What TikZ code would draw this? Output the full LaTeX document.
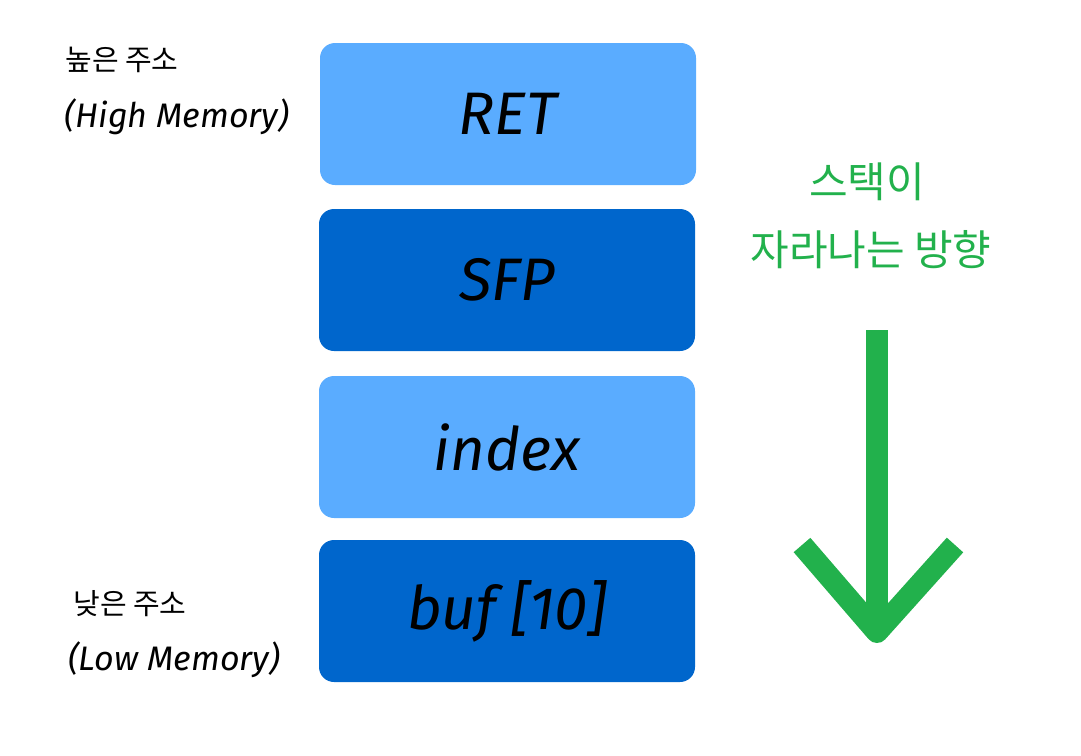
\documentclass[tikz,border=0pt]{standalone}
\usepackage{fontspec}
\setmainfont{Fira Sans}
\newfontfamily\kofont{Noto Sans CJK KR}
\usetikzlibrary{positioning}
\definecolor{lightblk}{HTML}{5AACFF}
\definecolor{darkblk}{HTML}{0066CC}
\definecolor{growgreen}{HTML}{22B14C}
\tikzset{
  frame/.style={rounded corners=15pt,minimum width=376pt,minimum height=142pt,inner sep=0pt,font=\fontsize{60}{62}\selectfont\itshape},
  memlabel/.style={align=center,font=\fontsize{34}{40}\selectfont}
}
\begin{document}
\begin{tikzpicture}[x=1pt,y=-1pt]
\useasboundingbox (0,0) rectangle (1081,755);
% stack frames
\node[frame,fill=lightblk] (ret) at (508,114) {RET};
\node[frame,fill=darkblk] (sfp) at (507,280) {SFP};
\node[frame,fill=lightblk] (idx) at (507,447) {index};
\node[frame,fill=darkblk] (buf) at (507,611) {buf [10]};
% address labels
\node[font=\fontsize{29}{34}\selectfont\kofont] (hiko) at (122,60) {높은 주소};
\node[memlabel,font=\fontsize{34}{40}\selectfont\itshape] (hien) at (177,117) {(High Memory)};
\node[font=\fontsize{29}{34}\selectfont\kofont] (loko) at (130,604) {낮은 주소};
\node[memlabel,font=\fontsize{34}{40}\selectfont\itshape] (loen) at (174,660) {(Low Memory)};
% direction
\node[text=growgreen,font=\fontsize{42}{48}\selectfont\kofont] (dir1) at (867,182) {스택이};
\node[text=growgreen,font=\fontsize{42}{48}\selectfont\kofont] (dir2) at (871,250) {자라나는 방향};
\coordinate (top) at (877,330);
\coordinate (tip) at (877,632);
\draw[growgreen,line width=22pt] (top) -- (tip);
\draw[growgreen,line width=22pt,line join=round] ([shift={(-75,-87)}]tip) -- (tip) -- ([shift={(78,-87)}]tip);
\end{tikzpicture}
\end{document}
